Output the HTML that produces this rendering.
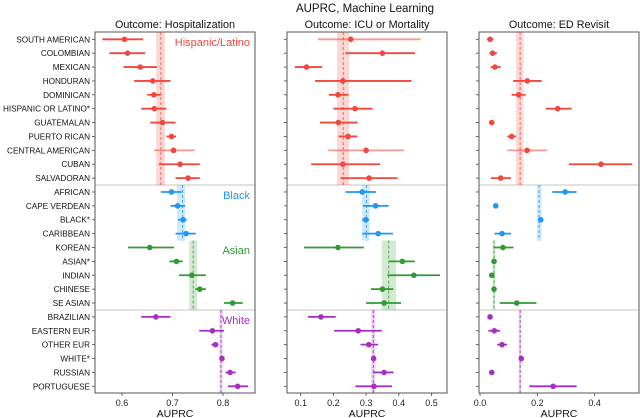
<!DOCTYPE html>
<html><head><meta charset="utf-8"><style>
body{margin:0;background:#fff;}
svg{display:block;font-family:"Liberation Sans",sans-serif;}
</style></head><body>
<svg id="chart" width="640" height="418" viewBox="0 0 640 418" xmlns="http://www.w3.org/2000/svg">
<text x="365" y="12" font-size="11.5" text-anchor="middle" fill="#111">AUPRC, Machine Learning</text>
</svg>
<script>
const categories = ["SOUTH AMERICAN","COLOMBIAN","MEXICAN","HONDURAN","DOMINICAN","HISPANIC OR LATINO*","GUATEMALAN","PUERTO RICAN","CENTRAL AMERICAN","CUBAN","SALVADORAN","AFRICAN","CAPE VERDEAN","BLACK*","CARIBBEAN","KOREAN","ASIAN*","INDIAN","CHINESE","SE ASIAN","BRAZILIAN","EASTERN EUR","OTHER EUR","WHITE*","RUSSIAN","PORTUGUESE"];
const groupNames = ["Hispanic/Latino","Black","Asian","White"];
const groupStart = [0,11,15,20];
const groupEnd = [10,14,19,25];
const groupColors = ["#f2473d","#2196f3","#339933","#a52fc2"];
const outcomes = ["Outcome: Hospitalization","Outcome: ICU or Mortality","Outcome: ED Revisit"];
const xTicks1 = [0.6,0.7,0.8];
const xTicks2 = [0.1,0.2,0.3,0.4,0.5];
const xTicks3 = [0.0,0.2,0.4];
const xTickLabels3 = ["0.0","0.2","0.4"];
// Hospitalization
const hospMean = [0.605,0.611,0.636,0.661,0.663,0.664,0.680,0.698,0.702,0.715,0.731,0.698,0.710,0.721,0.727,0.655,0.708,0.738,0.754,0.819,0.667,0.779,0.785,0.798,0.814,0.829];
const hospLo = [0.561,0.575,0.603,0.624,0.650,0.638,0.656,0.688,0.663,0.673,0.706,0.677,0.696,0.711,0.706,0.612,0.694,0.713,0.745,0.802,0.638,0.753,0.777,0.795,0.805,0.810];
const hospHi = [0.642,0.646,0.669,0.696,0.677,0.688,0.706,0.707,0.744,0.754,0.754,0.718,0.725,0.728,0.746,0.703,0.720,0.766,0.766,0.839,0.696,0.802,0.791,0.801,0.825,0.850];
const hospBandLo = [0.668,0.709,0.733,0.793];
const hospBandHi = [0.685,0.725,0.749,0.799];
const hospBandMid = [0.677,0.720,0.741,0.796];
// ICU or Mortality
const icuMean = [0.253,0.350,0.118,0.229,0.214,0.266,0.215,0.245,0.300,0.229,0.309,0.288,0.329,0.299,0.337,0.214,0.411,0.446,0.350,0.355,0.162,0.276,0.308,0.323,0.355,0.324];
const icuLo = [0.152,0.237,0.082,0.144,0.186,0.200,0.159,0.216,0.184,0.132,0.222,0.237,0.290,0.288,0.288,0.110,0.371,0.365,0.315,0.300,0.122,0.202,0.283,0.319,0.322,0.267];
const icuHi = [0.467,0.450,0.166,0.439,0.246,0.320,0.274,0.273,0.417,0.343,0.396,0.330,0.369,0.309,0.382,0.293,0.449,0.526,0.383,0.407,0.207,0.348,0.337,0.327,0.384,0.379];
const icuBandLo = [0.211,0.288,0.348,0.316];
const icuBandHi = [0.248,0.311,0.392,0.328];
const icuBandMid = [0.230,0.301,0.369,0.322];
// ED Revisit
const edMean = [0.035,0.044,0.052,0.165,0.135,0.271,0.041,0.110,0.164,0.422,0.072,0.297,0.055,0.212,0.077,0.080,0.049,0.041,0.049,0.128,0.035,0.050,0.077,0.144,0.041,0.255];
const edLo = [0.024,0.033,0.037,0.116,0.110,0.229,0.033,0.095,0.095,0.310,0.038,0.252,0.050,0.207,0.050,0.047,0.045,0.033,0.045,0.069,0.027,0.029,0.060,0.140,0.033,0.172];
const edHi = [0.047,0.059,0.072,0.215,0.159,0.320,0.049,0.126,0.235,0.531,0.108,0.337,0.060,0.217,0.108,0.117,0.053,0.049,0.053,0.197,0.043,0.070,0.095,0.148,0.049,0.337];
const edBandLo = [0.126,0.198,0.044,0.135];
const edBandHi = [0.151,0.215,0.053,0.144];
const edBandMid = [0.140,0.206,0.049,0.140];
const lightRows1 = [8];
const lightRows2 = [0,8];
const lightRows3 = [8];

const svg = document.getElementById('chart');
const NS = 'http://www.w3.org/2000/svg';
function mk(tag, attrs, parent){const e=document.createElementNS(NS,tag);for(const k in attrs)e.setAttribute(k,attrs[k]);(parent||svg).appendChild(e);return e;}
const yTop=32, yBottom=393;
function yRow(i){return 39.3+i*13.88;}
function yBound(i){return yRow(i)-6.94;}
function groupOf(i){for(let g=0;g<4;g++){if(i>=groupStart[g]&&i<=groupEnd[g])return g;}return 0;}

const panels = [
 {x0:95,x1:255,scale:v=>122+(v-0.6)*505,ticks:xTicks1,labels:xTicks1.map(v=>v.toFixed(1)),mean:hospMean,lo:hospLo,hi:hospHi,bl:hospBandLo,bh:hospBandHi,bm:hospBandMid,light:lightRows1,name:'hospitalization'},
 {x0:287,x1:447,scale:v=>300.7+(v-0.1)*327,ticks:xTicks2,labels:xTicks2.map(v=>v.toFixed(1)),mean:icuMean,lo:icuLo,hi:icuHi,bl:icuBandLo,bh:icuBandHi,bm:icuBandMid,light:lightRows2,name:'icu-mortality'},
 {x0:479,x1:639,scale:v=>480+v*286.7,ticks:xTicks3,labels:xTickLabels3,mean:edMean,lo:edLo,hi:edHi,bl:edBandLo,bh:edBandHi,bm:edBandMid,light:lightRows3,name:'ed-revisit'}
];

panels.forEach((p,pi)=>{
  const g = mk('g',{});
  
  
  const t = mk('text',{x:(p.x0+p.x1)/2,y:28,'font-size':'10.8','text-anchor':'middle',fill:'#111'},g);
  t.textContent = outcomes[pi];
  
  
  [yBound(11),yBound(20)].forEach(y=>{
    const s = mk('line',{x1:p.x0,x2:p.x1,y1:y,y2:y,stroke:'#e2e2e2','stroke-width':2},g);
    
    
  });
  for(let k=0;k<4;k++){
    const y1 = k===0?yTop:yBound(groupStart[k]);
    const y2 = k===3?yBottom:yBound(groupEnd[k]+1);
    const r = mk('rect',{x:p.scale(p.bl[k]),y:y1,width:Math.max(1,p.scale(p.bh[k])-p.scale(p.bl[k])),height:y2-y1,fill:groupColors[k],'fill-opacity':0.22},g);
    
    
    const m = mk('line',{x1:p.scale(p.bm[k]),x2:p.scale(p.bm[k]),y1:y1,y2:y2,stroke:groupColors[k],'stroke-width':1,'stroke-dasharray':'3,2','stroke-opacity':0.8},g);
    
    
  }
  categories.forEach((c,i)=>{
    const gi = groupOf(i), y = yRow(i), col = groupColors[gi];
    const light = p.light.indexOf(i)>=0;
    const l = mk('line',{x1:p.scale(p.lo[i]),x2:p.scale(p.hi[i]),y1:y,y2:y,stroke:col,'stroke-width':1.8,'stroke-opacity':light?0.55:1},g);
    
    
    const d = mk('circle',{cx:p.scale(p.mean[i]),cy:y,r:2.8,fill:col},g);
    
    
    const tk = mk('line',{x1:p.x0-3,x2:p.x0,y1:y,y2:y,stroke:'#444','stroke-width':0.8},g);
    
    
    if(pi===0){
      const lb = mk('text',{x:p.x0-5,y:y+3,'font-size':'8.2','text-anchor':'end',fill:'#111'},g);
      lb.textContent = c;
      
      
    }
  });
  const f = mk('rect',{x:p.x0,y:yTop,width:p.x1-p.x0,height:yBottom-yTop,fill:'none',stroke:'#555','stroke-width':1},g);
  
  
  p.ticks.forEach((v,k)=>{
    const x = p.scale(v);
    const tk = mk('line',{x1:x,x2:x,y1:yBottom,y2:yBottom+3,stroke:'#444','stroke-width':0.8},g);
    
    
    const tl = mk('text',{x:x,y:yBottom+13,'font-size':'9','text-anchor':'middle',fill:'#222'},g);
    tl.textContent = p.labels[k];
    
    
  });
  const xt = mk('text',{x:(p.x0+p.x1)/2,y:417,'font-size':'10.5','text-anchor':'middle',fill:'#111'},g);
  xt.textContent = 'AUPRC';
  
  
  if(pi===0){
    const gy=[46,199,254,324];
    for(let k=0;k<4;k++){
      const gl = mk('text',{x:p.x1-5,y:gy[k],'font-size':'11','text-anchor':'end',fill:groupColors[k]},g);
      gl.textContent = groupNames[k];
      
      
    }
  }
});
</script>
</body></html>
